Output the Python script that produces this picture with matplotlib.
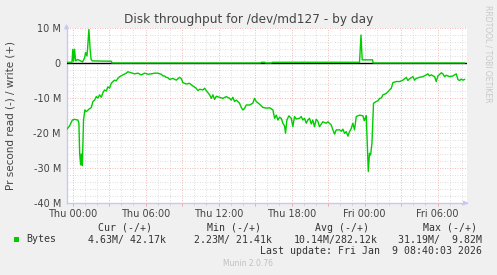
import matplotlib
matplotlib.use("Agg")
import matplotlib.pyplot as plt
from matplotlib.ticker import MultipleLocator, FuncFormatter

# ---------------- data (hours since Thu 00:00, values in MB/s) ----------------
read_hours = [-0.47, -0.25, -0.02, 0.16, 0.44, 0.52, 0.58, 0.66, 0.72, 0.80, 0.90, 1.01, 1.13, 1.34,
              1.54, 1.67, 1.81, 1.95, 2.08, 2.22, 2.36, 2.49, 2.63, 2.77, 2.90, 3.04, 3.18, 3.31,
              3.45, 3.59, 3.72, 3.86, 4.13, 4.41, 4.54, 4.82, 5.09, 5.37, 5.64, 5.92, 6.19, 6.47,
              6.74, 7.01, 7.15, 7.29, 7.42, 7.56, 7.70, 7.83, 7.97, 8.24, 8.52, 8.79, 8.93, 9.06,
              9.34, 9.61, 9.89, 10.16, 10.30, 10.44, 10.71, 10.85, 10.99, 11.26, 11.40, 11.53,
              11.67, 11.81, 12.08, 12.35, 12.63, 12.90, 13.04, 13.17, 13.31, 13.45, 13.72, 13.86,
              13.99, 14.13, 14.27, 14.54, 14.81, 14.95, 15.09, 15.37, 15.64, 15.92, 16.19, 16.46,
              16.60, 16.74, 16.87, 17.01, 17.15, 17.28, 17.42, 17.50, 17.61, 17.77, 17.97, 18.10,
              18.24, 18.38, 18.65, 18.79, 18.92, 19.06, 19.20, 19.33, 19.47, 19.61, 19.74, 19.88,
              20.02, 20.15, 20.29, 20.56, 20.84, 20.98, 21.25, 21.39, 21.53, 21.67, 21.94, 22.08,
              22.21, 22.35, 22.49, 22.62, 22.76, 22.90, 23.03, 23.17, 23.31, 23.58, 23.86, 23.97,
              24.08, 24.13, 24.24, 24.30, 24.40, 24.49, 24.60, 24.73, 24.95, 25.09, 25.23, 25.37,
              25.50, 25.78, 26.05, 26.19, 26.32, 26.60, 26.87, 27.14, 27.42, 27.55, 27.69, 27.97,
              28.10, 28.24, 28.51, 28.79, 29.06, 29.20, 29.33, 29.47, 29.75, 29.88, 30.02, 30.30,
              30.43, 30.57, 30.71, 30.98, 31.25, 31.53, 31.66, 31.80, 31.94, 32.08, 32.21]
read_mbytes = [-18.9, -18.0, -16.3, -16.1, -16.3, -17.2, -25.7, -29.1, -26.0, -29.3, -16.3, -13.4,
               -13.9, -13.2, -12.7, -11.0, -10.6, -9.6, -10.0, -9.1, -9.8, -8.5, -7.7, -8.0, -6.8,
               -7.2, -5.8, -5.3, -4.9, -5.1, -4.4, -3.9, -3.4, -2.9, -2.5, -2.8, -3.1, -2.9, -3.4,
               -2.9, -3.2, -3.1, -2.9, -2.9, -3.1, -3.2, -3.7, -3.7, -4.1, -4.2, -4.7, -4.4, -4.9,
               -4.1, -4.4, -5.6, -6.0, -5.8, -6.6, -7.2, -7.9, -7.5, -7.7, -7.2, -7.9, -9.1, -10.1,
               -9.1, -10.4, -9.5, -9.8, -10.1, -9.6, -10.1, -10.6, -9.8, -11.0, -10.6, -11.5,
               -12.7, -13.4, -13.0, -12.0, -12.0, -11.5, -10.1, -11.0, -11.8, -12.7, -12.9, -12.8,
               -13.4, -15.8, -14.9, -16.3, -15.5, -15.8, -17.2, -18.0, -20.1, -16.3, -15.1, -15.8,
               -18.2, -15.3, -16.0, -15.8, -15.3, -16.3, -15.8, -17.2, -16.3, -15.8, -17.4, -16.3,
               -18.2, -16.1, -16.6, -18.2, -16.8, -17.2, -16.8, -17.7, -19.1, -20.3, -19.1, -19.1,
               -19.5, -18.9, -20.1, -19.6, -20.9, -19.6, -18.7, -17.2, -19.1, -15.3, -14.9, -15.1,
               -16.5, -15.5, -15.0, -25.8, -31.0, -25.8, -26.3, -22.9, -11.5, -11.0, -10.8, -10.1,
               -10.0, -9.1, -8.7, -7.7, -7.2, -5.6, -5.3, -5.3, -4.9, -4.1, -5.0, -4.5, -3.9, -4.9,
               -4.4, -4.1, -3.9, -3.4, -3.1, -3.7, -3.4, -3.9, -5.3, -3.7, -2.8, -3.1, -3.9, -3.5,
               -3.9, -3.7, -3.1, -4.7, -5.0, -4.6, -4.9, -4.7]

write_hours = [-0.47, -0.05, 0.02, 0.08, 0.16, 0.25, 0.41, 0.66, 0.82, 0.99, 1.07, 1.18, 1.23, 1.34,
               1.44, 1.52, 1.62, 3.20, 3.22, 15.45, 15.50, 15.80, 15.85, 16.35, 16.40, 23.58,
               23.70, 23.80, 24.65, 24.70, 32.21]
write_mbytes = [0.2, 0.2, 3.9, 0.5, 3.9, 0.6, 1.0, 0.6, 0.3, 1.5, 3.0, 2.0, 4.0, 9.6,
                4.0, 1.0, 0.6, 0.5, 0.0, 0.0, 0.2, 0.2, 0.0, 0.0, 0.2, 0.2,
                8.0, 0.9, 0.9, 0.0, 0.0]

x_tick_hours = [0, 6, 12, 18, 24, 30]
x_tick_labels = ["Thu 00:00", "Thu 06:00", "Thu 12:00", "Thu 18:00", "Fri 00:00", "Fri 06:00"]
y_ticks = [10, 0, -10, -20, -30, -40]

title = "Disk throughput for /dev/md127 - by day"
ylabel = "Pr second read (-) / write (+)"
legend_headers = ["Cur (-/+)", "Min (-/+)", "Avg (-/+)", "Max (-/+)"]
legend_values = ["4.63M/ 42.17k", "2.23M/ 21.41k", "10.14M/282.12k", "31.19M/  9.82M"]
last_update = "Last update: Fri Jan  9 08:40:03 2026"

# ---------------- figure ----------------
W, H = 497, 275
fig = plt.figure(figsize=(W / 100, H / 100), dpi=100, facecolor="#F0F0F0")

L, R, T, B = 66.5, 466.5, 28, 203
ax = fig.add_axes([L / W, 1 - B / H, (R - L) / W, (B - T) / H])
ax.set_facecolor("white")
ax.set_xlim(-0.5, 32.37)
ax.set_ylim(-40, 10)

GREEN = "#00CC00"
ax.plot(read_hours, read_mbytes, color=GREEN, lw=1.0, zorder=4)
ax.plot(write_hours, write_mbytes, color=GREEN, lw=1.0, zorder=4)
ax.axhline(0, color="black", lw=1.0, zorder=3)

# grid
ax.xaxis.set_major_locator(MultipleLocator(3))
ax.xaxis.set_minor_locator(MultipleLocator(1))
ax.yaxis.set_major_locator(MultipleLocator(10))
ax.yaxis.set_minor_locator(MultipleLocator(2))
ax.grid(which="minor", color="#d2d2d2", lw=0.6, ls=(0, (1, 2)))
ax.grid(which="major", color="#eba0a0", lw=0.6, ls=(0, (1, 2)))
ax.set_axisbelow(True)

ax.set_xticks(x_tick_hours, minor=False)
ax.xaxis.set_major_locator(MultipleLocator(3))
ax.xaxis.set_major_formatter(FuncFormatter(
    lambda v, p: x_tick_labels[x_tick_hours.index(int(round(v)))] if int(round(v)) in x_tick_hours and abs(v - round(v)) < 1e-6 else ""))
ax.yaxis.set_major_formatter(FuncFormatter(lambda v, p: "0" if abs(v) < 1e-9 else f"{int(v)} M"))

ax.tick_params(axis="both", which="major", labelsize=7, colors="#555555", labelcolor="#444444",
               length=2, width=0.6, pad=2)
ax.tick_params(axis="both", which="minor", length=1.5, width=0.5, colors="#bbbbbb")
ax.tick_params(axis="y", which="both", length=0, pad=4)
ax.tick_params(axis="x", which="major", colors="#e0a0a0", labelcolor="#444444")

for s in ["top", "right"]:
    ax.spines[s].set_visible(False)
for s in ["left", "bottom"]:
    ax.spines[s].set_color("#c8c8f0")
    ax.spines[s].set_linewidth(1.0)

# axis arrows
ax.annotate("", xy=(0, 1.04), xytext=(0, 0.98), xycoords="axes fraction",
            arrowprops=dict(arrowstyle="-|>", color="#c8c8f0", lw=1.0, mutation_scale=6), annotation_clip=False)
ax.annotate("", xy=(1.012, 0), xytext=(0.99, 0), xycoords="axes fraction",
            arrowprops=dict(arrowstyle="-|>", color="#c8c8f0", lw=1.0, mutation_scale=6), annotation_clip=False)

# texts
def fx(px):
    return px / W

def fy(py):
    return 1 - py / H

fig.text(fx(249), fy(19), title, ha="center", va="center", fontsize=8.7, color="#444444")
fig.text(fx(11), fy(115.5), ylabel, ha="center", va="center", rotation=90, fontsize=7.5, color="#444444")
fig.text(fx(488), fy(54), "RRDTOOL / TOBI OETIKER", ha="center", va="center", rotation=270,
         fontsize=5.5, color="#c8c8c8")

MONO = "DejaVu Sans Mono"
for x, s in zip([98, 207, 315, 422.7], legend_headers):
    fig.text(fx(x), fy(228), s, ha="left", va="center", fontsize=7.1, family=MONO, color="#333333")

fig.patches.append(plt.Rectangle((fx(14), fy(241.7)), 5.3 / W, 5 / H, transform=fig.transFigure,
                                 facecolor=GREEN, edgecolor="none"))
fig.text(fx(26.7), fy(239.5), "Bytes", ha="left", va="center", fontsize=7.1, family=MONO, color="#333333")
for x, s in zip([88.3, 194.3, 293.3, 398.3], legend_values):
    fig.text(fx(x), fy(239.5), s, ha="left", va="center", fontsize=7.1, family=MONO, color="#333333")
fig.text(fx(482), fy(251), last_update, ha="right", va="center", fontsize=7.1, family=MONO, color="#333333")
fig.text(fx(248), fy(264), "Munin 2.0.76", ha="center", va="center", fontsize=5.5, color="#c0c0c0")

fig.savefig("out.png", dpi=100, facecolor=fig.get_facecolor())
